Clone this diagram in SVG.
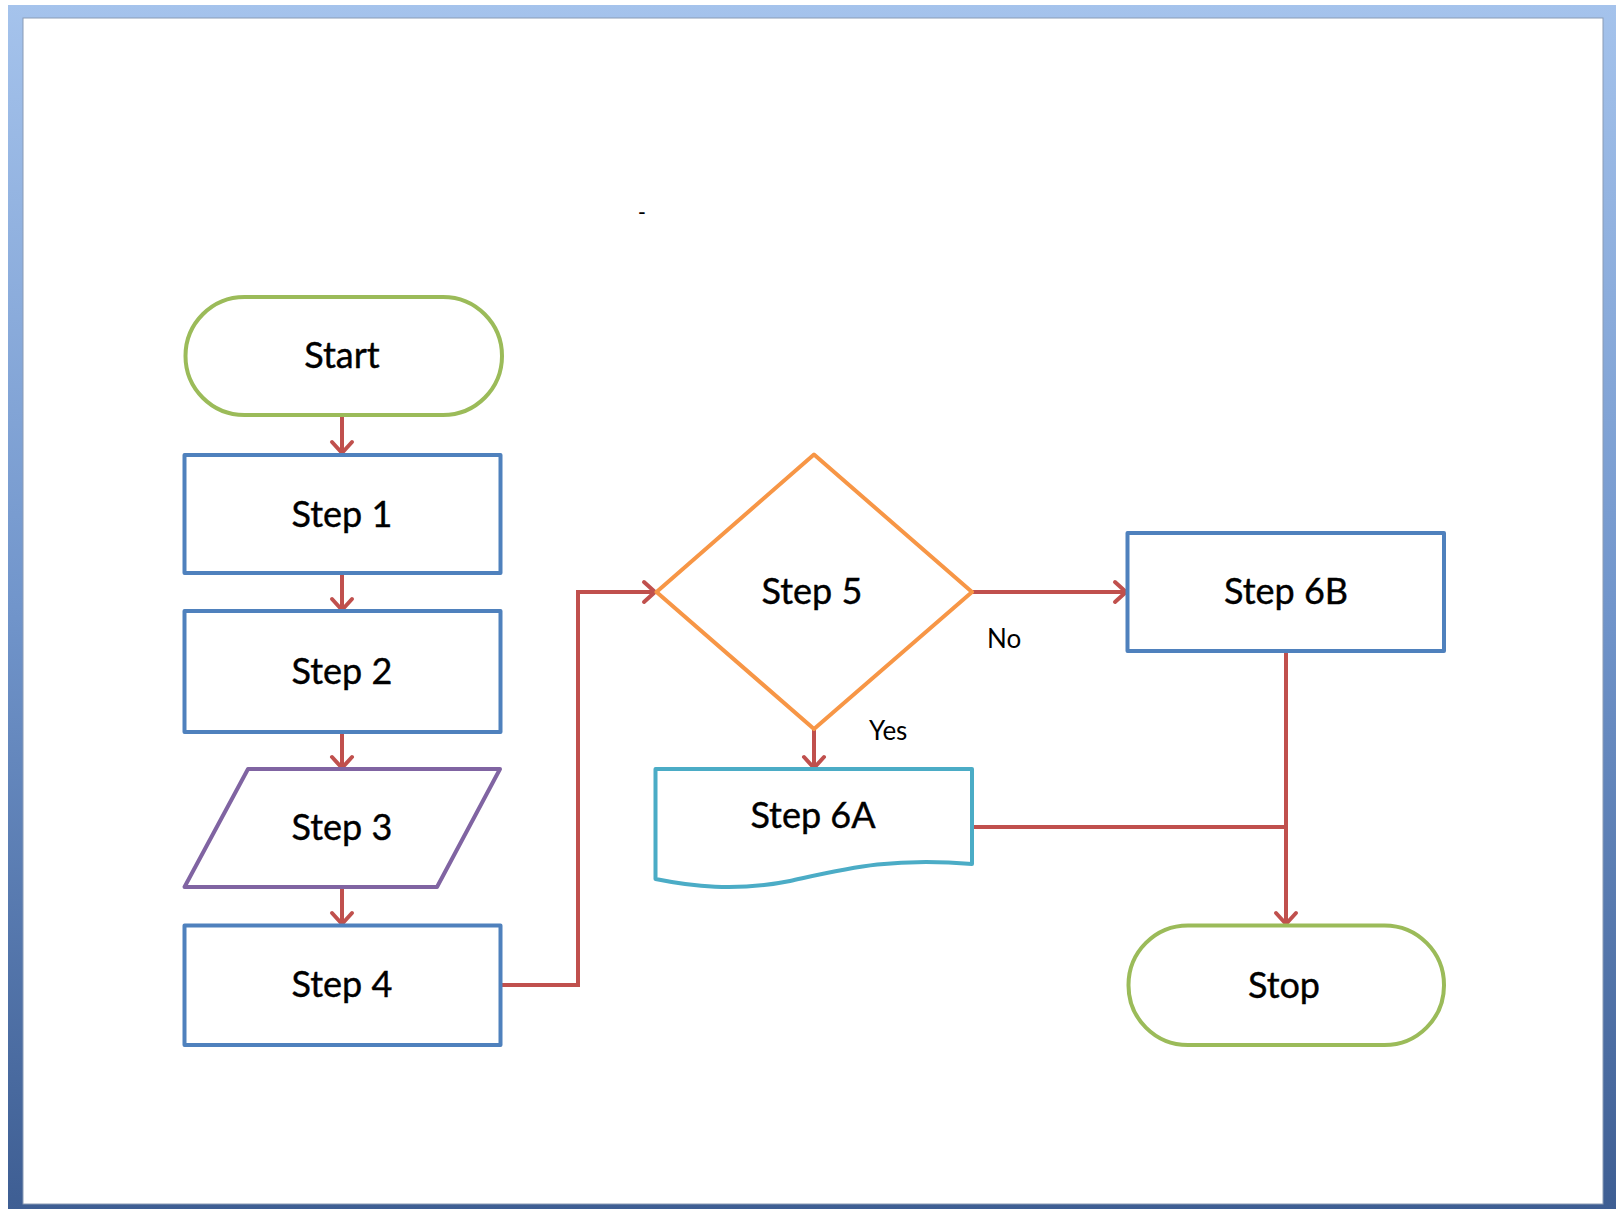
<svg xmlns="http://www.w3.org/2000/svg" width="1616" height="1209" viewBox="0 0 1616 1209">
  <defs>
    <linearGradient id="frameGrad" x1="0" y1="0" x2="0" y2="1">
      <stop offset="0" stop-color="#A5C3EC"/>
      <stop offset="0.5" stop-color="#7195CB"/>
      <stop offset="1" stop-color="#3E5E93"/>
    </linearGradient>
    <marker id="arrow" markerUnits="userSpaceOnUse" markerWidth="30" markerHeight="30" viewBox="-15 -15 30 30" refX="0" refY="0" orient="auto">
      <path d="M-11,-10 L0,0 L-11,10" fill="none" stroke="#C0504D" stroke-width="4" stroke-linecap="round" stroke-linejoin="round"/>
    </marker>
    <style>
      .node { fill: #FFFFFF; stroke-width: 4; stroke-linejoin: round; }
      .terminal { stroke: #9BBB59; }
      .process { stroke: #4F81BD; }
      .io { stroke: #8064A2; }
      .decision { stroke: #F79646; }
      .doc { stroke: #4BACC6; }
      .label { font-family: Lato, "Liberation Sans", sans-serif; font-size: 36px; fill: #000000; text-anchor: middle; stroke: #000000; stroke-width: 0.4; }
      .small { font-family: Lato, "Liberation Sans", sans-serif; font-size: 26px; fill: #000000; }
      .conn { fill: none; stroke: #C0504D; stroke-width: 4; stroke-linejoin: miter; }
    </style>
  </defs>

  <!-- window frame -->
  <rect x="8" y="5" width="1608" height="1204" fill="url(#frameGrad)"/>
  <rect x="23" y="18" width="1580" height="1186" fill="#FFFFFF" stroke="#8A9BB5" stroke-width="1"/>
  <text x="642" y="219" font-family="Liberation Sans, sans-serif" font-size="22" text-anchor="middle" fill="#000000">-</text>

  <g id="connectors">
    <path class="conn" d="M342,415 V453" marker-end="url(#arrow)"/>
    <path class="conn" d="M342,573 V610" marker-end="url(#arrow)"/>
    <path class="conn" d="M342,732 V768" marker-end="url(#arrow)"/>
    <path class="conn" d="M342,887 V924" marker-end="url(#arrow)"/>
    <path class="conn" d="M500,985 H578 V592 H655" marker-end="url(#arrow)"/>
    <path class="conn" d="M972,592 H1126" marker-end="url(#arrow)"/>
    <path class="conn" d="M814,729 V768" marker-end="url(#arrow)"/>
    <path class="conn" d="M972,827 H1286"/>
    <path class="conn" d="M1286,651 V924" marker-end="url(#arrow)"/>
    <text class="small" x="987" y="648">No</text>
    <text class="small" x="869" y="740">Yes</text>
  </g>

  <g id="start">
    <rect class="node terminal" x="185.5" y="297" width="316.5" height="118" rx="59" ry="59"/>
    <text class="label" x="342" y="368">Start</text>
  </g>
  <g id="step1">
    <rect class="node process" x="184.5" y="455" width="316" height="118"/>
    <text class="label" x="342" y="527">Step 1</text>
  </g>
  <g id="step2">
    <rect class="node process" x="184.5" y="611" width="316" height="121"/>
    <text class="label" x="342" y="684">Step 2</text>
  </g>
  <g id="step3">
    <polygon class="node io" points="248,769 500,769 437,887 184.5,887"/>
    <text class="label" x="342" y="840">Step 3</text>
  </g>
  <g id="step4">
    <rect class="node process" x="184.5" y="925.5" width="316" height="119.5"/>
    <text class="label" x="342" y="997">Step 4</text>
  </g>
  <g id="step5">
    <polygon class="node decision" points="814,454.5 972,592 814,729 656.5,592"/>
    <text class="label" x="812" y="604">Step 5</text>
  </g>
  <g id="step6a">
    <path class="node doc" d="M655.5,769 H972 V864 C890,857 845,869 790,881 C735,892 690,886 655.5,879 Z"/>
    <text class="label" x="813" y="828">Step 6A</text>
  </g>
  <g id="step6b">
    <rect class="node process" x="1127.5" y="533" width="316.5" height="118"/>
    <text class="label" x="1286" y="604">Step 6B</text>
  </g>
  <g id="stop">
    <rect class="node terminal" x="1128.5" y="925.5" width="315.5" height="119.5" rx="59.5" ry="59.5"/>
    <text class="label" x="1284" y="998">Stop</text>
  </g>
</svg>
